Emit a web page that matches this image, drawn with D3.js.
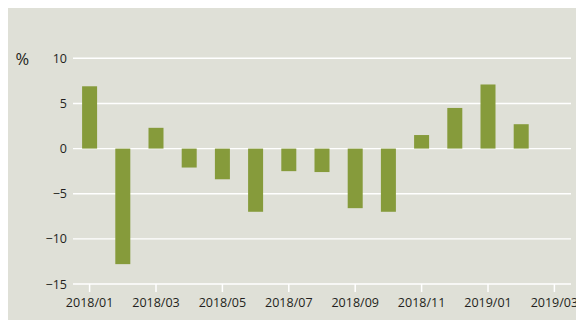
<!DOCTYPE html>
<html>
<head>
<meta charset="utf-8">
<script src="https://cdn.jsdelivr.net/npm/d3@7"></script>
<style>
  html, body { margin: 0; padding: 0; background: #ffffff; }
  svg { display: block; }
  text { font-family: "Open Sans", "Noto Sans", sans-serif; fill: #231f20; }
</style>
</head>
<body>
<svg id="chart" width="576" height="320"></svg>
<script>
// Monthly change, %
const months = ["2018/01","2018/02","2018/03","2018/04","2018/05","2018/06","2018/07",
                "2018/08","2018/09","2018/10","2018/11","2018/12","2019/01","2019/02","2019/03"];
const values = [6.9, -12.8, 2.3, -2.1, -3.4, -7.0, -2.5, -2.6, -6.6, -7.0, 1.5, 4.5, 7.1, 2.7, null];
const xTickLabels = ["2018/01","2018/03","2018/05","2018/07","2018/09","2018/11","2019/01","2019/03"];
const yTicks = [10, 5, 0, -5, -10, -15];
const unitLabel = "%";

const svg = d3.select("#chart");
const W = 576, H = 320;

// panel background
svg.append("rect")
  .attr("x", 8).attr("y", 8)
  .attr("width", W - 8).attr("height", H - 8)
  .attr("fill", "#dfe0d7");

const x = d3.scaleBand().domain(months).range([73, 571]).paddingInner(0).paddingOuter(0);
const y = d3.scaleLinear().domain([-15, 10]).range([284, 58.3]);

// horizontal grid lines
svg.append("g").selectAll("line")
  .data(yTicks)
  .join("line")
  .attr("x1", 73).attr("x2", 571)
  .attr("y1", d => y(d)).attr("y2", d => y(d))
  .attr("stroke", "#ffffff").attr("stroke-width", 1.4);

// y labels
const fmt = d => d < 0 ? "\u2212" + Math.abs(d) : String(d);
svg.append("g").selectAll("text")
  .data(yTicks)
  .join("text")
  .attr("x", 67).attr("y", d => y(d))
  .attr("dy", "0.36em")
  .attr("text-anchor", "end")
  .attr("font-size", 12.5)
  .text(fmt);

svg.append("text")
  .attr("x", 15.5).attr("y", y(10) + 1)
  .attr("dy", "0.36em")
  .attr("font-size", 16.5)
  .text(unitLabel);

// bars
svg.append("g").selectAll("rect")
  .data(months.map((m, i) => ({ m, v: values[i] })).filter(d => d.v != null))
  .join("rect")
  .attr("x", d => x(d.m) + x.bandwidth() / 2 - 7.5)
  .attr("width", 15)
  .attr("y", d => y(Math.max(0, d.v)))
  .attr("height", d => Math.abs(y(d.v) - y(0)))
  .attr("fill", "#869b3b");

// x axis ticks and labels
const xg = svg.append("g").selectAll("g")
  .data(xTickLabels)
  .join("g")
  .attr("transform", d => `translate(${x(d) + x.bandwidth() / 2},0)`);
xg.append("line")
  .attr("y1", 284).attr("y2", 292)
  .attr("stroke", "#ffffff").attr("stroke-width", 1.5);
xg.append("text")
  .attr("y", 306.5)
  .attr("text-anchor", "middle")
  .attr("font-size", 12.5)
  .text(d => d);
</script>
</body>
</html>
